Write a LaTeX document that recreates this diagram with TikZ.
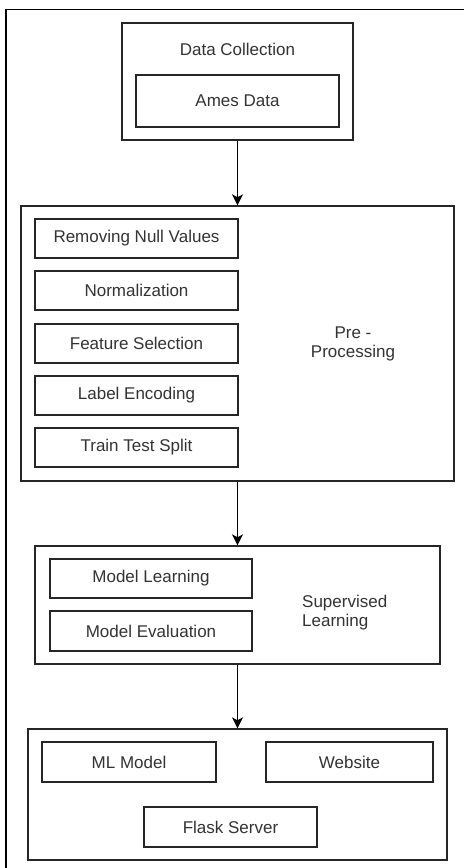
\documentclass[tikz,border=0pt]{standalone}
\usepackage{fontspec}
\setmainfont{Liberation Sans}
\usetikzlibrary{arrows.meta}
\begin{document}
\begin{tikzpicture}[x=1pt,y=-1pt,
  every node/.style={font=\fontsize{17}{19}\selectfont, text=black!80},
  frame/.style={draw=black!85, line width=1.4pt, rectangle, inner sep=0pt},
  stepbox/.style={frame, align=center},
  caption/.style={inner sep=0pt, align=center},
  flow/.style={draw=black, line width=1.4pt, -{Stealth[length=11pt,width=11pt,inset=3pt]}}]
\useasboundingbox (0,0) rectangle (464,868);
\fill[white] (0,0) rectangle (464,868);

% outer border (top and left edges)
\draw[line width=1.8pt, black] (6,868) -- (6,9.5) -- (464,9.5);

% data collection
\node[frame, minimum width=231pt, minimum height=117pt] (dc) at (237.5,81.5) {};
\node[caption] (dct) at (237.5,49) {Data Collection};
\node[stepbox, minimum width=203pt, minimum height=52pt] (ames) at (237.5,101) {Ames Data};

% pre-processing
\node[frame, minimum width=433pt, minimum height=275pt] (pre) at (237.5,343.5) {};
\node[stepbox, minimum width=203pt, minimum height=39pt] (nul) at (136.5,238.5) {Removing Null Values};
\node[stepbox, minimum width=203pt, minimum height=39pt] (nrm) at (136.5,290.5) {Normalization};
\node[stepbox, minimum width=203pt, minimum height=39pt] (fsel) at (136.5,343.5) {Feature Selection};
\node[stepbox, minimum width=203pt, minimum height=39pt] (lenc) at (136.5,395.5) {Label Encoding};
\node[stepbox, minimum width=203pt, minimum height=39pt] (tts) at (136.5,447.5) {Train Test Split};
\node[caption] (pret) at (353,344) {Pre -\\Processing};

% supervised learning
\node[frame, minimum width=405pt, minimum height=118pt] (sup) at (237.5,605) {};
\node[stepbox, minimum width=202pt, minimum height=39pt] (mlearn) at (151,578.5) {Model Learning};
\node[stepbox, minimum width=202pt, minimum height=40pt] (meval) at (151,631) {Model Evaluation};
\node[caption, align=left, anchor=west] (supt) at (302,613) {Supervised\\Learning};

% deployment
\node[frame, minimum width=419pt, minimum height=131pt] (dep) at (237.5,794.5) {};
\node[stepbox, minimum width=174pt, minimum height=40pt] (mlm) at (129,762) {ML Model};
\node[stepbox, minimum width=167pt, minimum height=40pt] (web) at (349.5,762) {Website};
\node[stepbox, minimum width=173pt, minimum height=40pt] (flask) at (230.5,827) {Flask Server};

% connectors
\draw[flow] (dc.south) -- (pre.north);
\draw[flow] (pre.south) -- (sup.north);
\draw[flow] (sup.south) -- (dep.north);
\end{tikzpicture}
\end{document}
